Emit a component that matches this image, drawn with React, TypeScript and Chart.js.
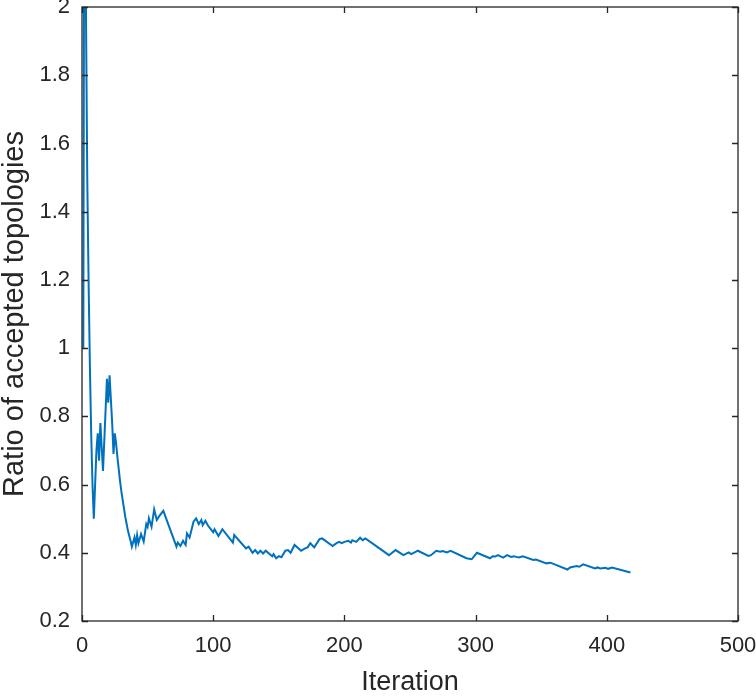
import React, { useEffect, useRef } from "react";
import { Chart, registerables } from "chart.js";

Chart.register(...registerables);

const iterations: number[] = [
  1, 2, 3, 4, 5, 6, 7, 8, 9, 10, 11, 12, 13, 14, 15, 16, 17, 18, 19, 20,
  21, 22, 23, 24, 25, 26, 27, 28, 29, 30, 31, 32, 33, 34, 35, 36, 37, 38,
  40, 41, 42, 43, 45, 47, 49, 50, 51, 53, 55, 57, 59, 62, 72, 73, 75, 77,
  79, 80, 82, 85, 87, 89, 91, 92, 94, 96, 98, 100, 101, 104, 107, 115, 116,
  125, 127, 130, 132, 134, 136, 138, 140, 145, 146, 148, 150, 152, 155, 157,
  159, 162, 167, 170, 172, 174, 177, 181, 183, 191, 194, 196, 198, 200, 203,
  205, 206, 209, 212, 214, 216, 234, 239, 245, 249, 251, 256, 264, 266, 270,
  273, 275, 278, 281, 293, 297, 301, 311, 313, 315, 317, 321, 324, 327, 329,
  331, 333, 336, 344, 346, 354, 357, 370, 372, 377, 379, 382, 391, 393, 395,
  399, 401, 404, 418,
];

const ratios: number[] = [
  1.0, 3.0, 2.0, 1.5, 1.2, 0.95, 0.75, 0.6, 0.5, 0.6, 0.7, 0.75, 0.67, 0.78,
  0.71, 0.64, 0.73, 0.82, 0.91, 0.84, 0.92, 0.85, 0.78, 0.69, 0.75, 0.72,
  0.68, 0.645, 0.61, 0.58, 0.555, 0.53, 0.505, 0.485, 0.465, 0.45, 0.435,
  0.418, 0.445, 0.423, 0.452, 0.428, 0.455, 0.433, 0.484, 0.476, 0.501,
  0.476, 0.527, 0.496, 0.508, 0.523, 0.418, 0.43, 0.42, 0.435, 0.423, 0.457,
  0.445, 0.491, 0.501, 0.484, 0.496, 0.481, 0.494, 0.48, 0.47, 0.46, 0.469,
  0.449, 0.469, 0.43, 0.452, 0.413, 0.418, 0.4, 0.408, 0.398, 0.406, 0.398,
  0.406, 0.39, 0.396, 0.384, 0.39, 0.387, 0.406, 0.408, 0.4, 0.423, 0.406,
  0.413, 0.416, 0.428, 0.416, 0.44, 0.442, 0.42, 0.428, 0.432, 0.428, 0.432,
  0.435, 0.43, 0.437, 0.432, 0.444, 0.437, 0.442, 0.393, 0.408, 0.393, 0.401,
  0.396, 0.406, 0.391, 0.393, 0.406, 0.403, 0.405, 0.401, 0.406, 0.384,
  0.381, 0.4, 0.384, 0.39, 0.389, 0.393, 0.386, 0.393, 0.388, 0.39, 0.388,
  0.386, 0.39, 0.379, 0.38, 0.369, 0.371, 0.351, 0.357, 0.361, 0.359, 0.366,
  0.354, 0.357, 0.354, 0.356, 0.353, 0.357, 0.342,
];

const xTitle = "Iteration";
const yTitle = "Ratio of accepted topologies";
const xMin = 0, xMax = 500, xStep = 100;
const yMin = 0.2, yMax = 2, yStep = 0.2;

const AXIS_COLOR = "#262626";
const FONT = "'Liberation Sans', Arial, Helvetica, sans-serif";

const boxPlugin = {
  id: "matlabBox",
  afterDraw(chart: any) {
    const { ctx, chartArea, scales } = chart;
    const { left, right, top, bottom } = chartArea;
    const tl = 6;
    ctx.save();
    ctx.strokeStyle = AXIS_COLOR;
    ctx.lineWidth = 1.3;
    ctx.beginPath();
    scales.x.ticks.forEach((t: any) => {
      const px = Math.round(scales.x.getPixelForValue(t.value)) + 0.5;
      ctx.moveTo(px, bottom);
      ctx.lineTo(px, bottom - tl);
      ctx.moveTo(px, top);
      ctx.lineTo(px, top + tl);
    });
    scales.y.ticks.forEach((t: any) => {
      const py = Math.round(scales.y.getPixelForValue(t.value)) + 0.5;
      ctx.moveTo(left, py);
      ctx.lineTo(left + tl, py);
      ctx.moveTo(right, py);
      ctx.lineTo(right - tl, py);
    });
    ctx.stroke();
    ctx.strokeRect(left, top, right - left, bottom - top);
    ctx.restore();
  },
};

export default function App() {
  const ref = useRef<HTMLCanvasElement | null>(null);

  useEffect(() => {
    if (!ref.current) return;
    const data = iterations.map((x, i) => ({ x, y: ratios[i] }));
    const chart = new Chart(ref.current, {
      type: "line",
      data: {
        datasets: [
          {
            data,
            borderColor: "#0072BD",
            borderWidth: 2,
            pointRadius: 0,
            tension: 0,
            fill: false,
          },
        ],
      },
      options: {
        animation: false,
        responsive: false,
        maintainAspectRatio: false,
        layout: { padding: { top: 7, right: 18, left: 0, bottom: 0 } },
        plugins: { legend: { display: false }, tooltip: { enabled: false } },
        scales: {
          x: {
            type: "linear",
            min: xMin,
            max: xMax,
            grid: { display: false, drawTicks: false },
            border: { display: false },
            ticks: {
              stepSize: xStep,
              color: AXIS_COLOR,
              font: { family: FONT, size: 22 },
              padding: 12,
              maxRotation: 0,
            },
            title: {
              display: true,
              text: xTitle,
              color: AXIS_COLOR,
              font: { family: FONT, size: 27, lineHeight: 1 },
              padding: 0,
            },
            afterFit(scale: any) {
              scale.height = 75;
              scale.paddingLeft = 0;
              scale.paddingRight = 0;
            },
          },
          y: {
            type: "linear",
            min: yMin,
            max: yMax,
            grid: { display: false, drawTicks: false },
            border: { display: false },
            ticks: {
              stepSize: yStep,
              color: AXIS_COLOR,
              font: { family: FONT, size: 22 },
              padding: 12,
              callback: (v: any) => String(Number(Number(v).toFixed(1))),
            },
            title: {
              display: true,
              text: yTitle,
              color: AXIS_COLOR,
              font: { family: FONT, size: 29, lineHeight: 1 },
              padding: 0,
            },
            afterFit(scale: any) {
              scale.width = 82;
              scale.paddingTop = 0;
              scale.paddingBottom = 0;
            },
          },
        },
      },
      plugins: [boxPlugin],
    });
    return () => chart.destroy();
  }, []);

  return (
    <div style={{ position: "fixed", left: 0, top: 0, width: 756, height: 696, background: "#fff" }}>
      <canvas ref={ref} width={756} height={696} style={{ display: "block", width: 756, height: 696 }} />
    </div>
  );
}
